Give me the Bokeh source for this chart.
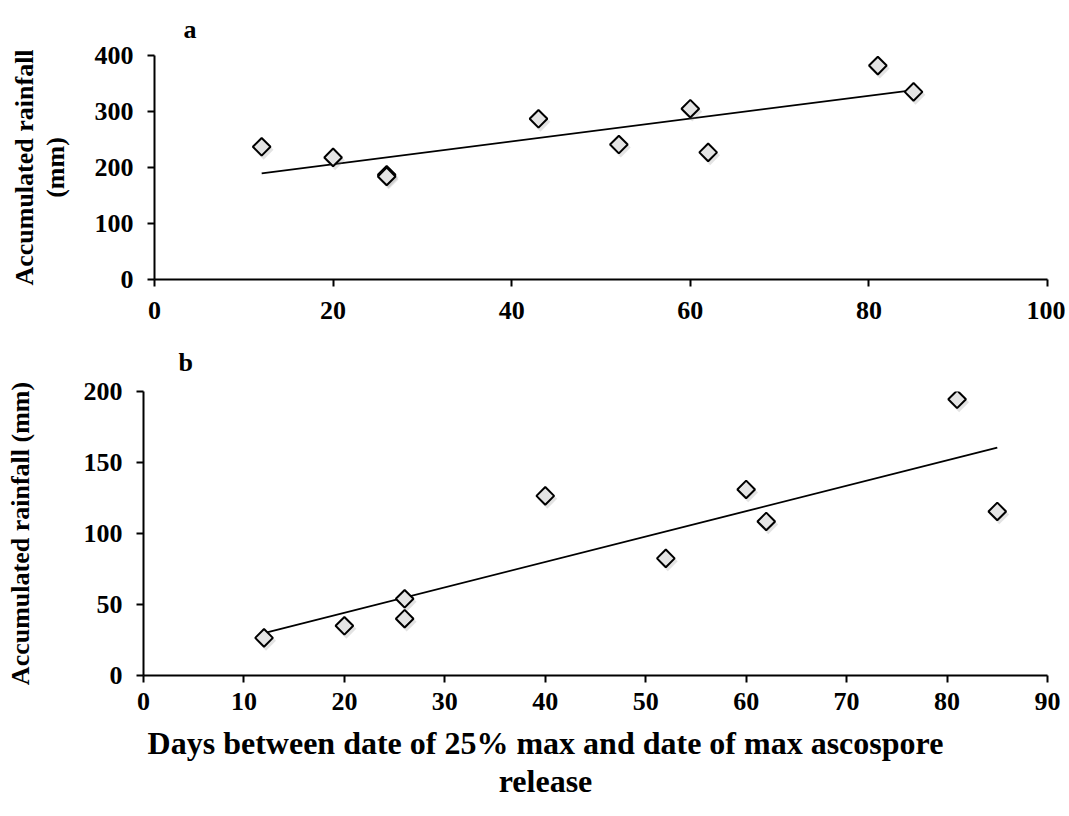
import numpy as np
from bokeh.plotting import figure
from bokeh.layouts import column
from bokeh.models import Range1d, SingleIntervalTicker, FixedTicker, ColumnDataSource, Title
from bokeh.transform import dodge
from bokeh.embed import file_html
from bokeh.resources import INLINE

# ---- data ----
days_a = [12, 20, 26, 26, 43, 52, 60, 62, 81, 85]
rain_a = [237, 218, 187, 184, 287, 241, 305, 227, 382, 335]
days_b = [12, 20, 26, 26, 40, 52, 60, 62, 81, 85]
rain_b = [26.5, 35, 54, 40, 126.5, 82.5, 131, 108.5, 194.5, 115.5]

panel_letters = ["a", "b"]
y_title_a = "Accumulated rainfall\n(mm)"
y_title_b = "Accumulated rainfall (mm)"
x_title_b = "Days between date of 25% max and date of max ascospore\nrelease"

FONT = "Liberation Serif"


def style_axes(p, x_int, y_int):
    p.xaxis.ticker = SingleIntervalTicker(interval=x_int)
    p.yaxis.ticker = SingleIntervalTicker(interval=y_int)
    for ax in (p.xaxis[0], p.yaxis[0]):
        ax.axis_line_width = 2
        ax.axis_line_color = "black"
        ax.major_tick_line_width = 2
        ax.major_tick_line_color = "black"
        ax.major_tick_out = 7
        ax.major_tick_in = 0
        ax.minor_tick_line_color = None
        ax.major_label_text_font = FONT
        ax.major_label_text_font_style = "bold"
        ax.major_label_text_font_size = "26px"
        ax.major_label_text_color = "black"
        ax.axis_label_text_font = FONT
        ax.axis_label_text_font_style = "bold"
        ax.axis_label_text_color = "black"
    p.xgrid.visible = False
    p.ygrid.visible = False
    p.outline_line_color = None
    p.background_fill_color = "white"
    p.border_fill_color = "white"


def add_points(p, xs, ys, sx, sy):
    fit = np.polyfit(xs, ys, 1)
    lx = np.array([min(xs), max(xs)], dtype=float)
    p.line(lx, np.polyval(fit, lx), line_color="black", line_width=1.8)
    src = ColumnDataSource(dict(x=xs, y=ys))
    p.scatter(x=dodge("x", sx), y=dodge("y", -sy), source=src, marker="square",
              angle=np.pi / 4, size=14, fill_color="#808080", fill_alpha=0.22,
              line_color=None)
    p.scatter(x="x", y="y", source=src, marker="square", angle=np.pi / 4,
              size=12.5, fill_color="#e4e4e4", line_color="black", line_width=2)


def letter(text, offset, standoff):
    return Title(text=text, align="left", offset=offset, standoff=standoff,
                 text_font=FONT, text_font_style="bold", text_font_size="26px",
                 text_color="black")


# ---- panel a ----
pa = figure(width=1065, height=329, x_range=Range1d(0, 100), y_range=Range1d(0, 400),
            min_border_left=154, min_border_right=18, min_border_top=54,
            min_border_bottom=50, output_backend="svg", toolbar_location=None,
            title=None)
style_axes(pa, 20, 100)
pa.yaxis.axis_label = y_title_a
pa.yaxis.axis_label_text_font_size = "26px"
pa.yaxis.axis_label_text_line_height = 1.05
pa.yaxis.axis_label_standoff = 22
pa.yaxis.major_label_standoff = 14
pa.xaxis.major_label_standoff = 15
add_points(pa, days_a, rain_a, 0.22, 5.3)
pa.add_layout(letter(panel_letters[0], 29, 24), "above")

# ---- panel b ----
pb = figure(width=1065, height=394, x_range=Range1d(0, 90), y_range=Range1d(0, 200),
            min_border_left=143, min_border_right=18, min_border_top=62,
            min_border_bottom=48, output_backend="svg", toolbar_location=None,
            title=None)
style_axes(pb, 10, 50)
pb.yaxis.axis_label = y_title_b
pb.yaxis.axis_label_text_font_size = "26px"
pb.yaxis.axis_label_standoff = 46
pb.yaxis.major_label_standoff = 14
pb.xaxis.major_label_standoff = 10
add_points(pb, days_b, rain_b, 0.2, 2.1)
pb.add_layout(letter(panel_letters[1], 35, 30), "above")

# ---- shared x-axis title (centred as in the original) ----
pc = figure(width=1068, height=93, x_range=Range1d(0, 1), y_range=Range1d(0, 1),
            min_border_left=22, min_border_right=0, min_border_top=0,
            min_border_bottom=92, output_backend="svg", toolbar_location=None,
            title=None, y_axis_location=None)
pc.xgrid.visible = False
pc.ygrid.visible = False
pc.outline_line_color = None
pc.xaxis.ticker = FixedTicker(ticks=[])
pc.xaxis.axis_line_color = None
pc.xaxis.major_tick_out = 0
pc.xaxis.major_tick_in = 0
pc.xaxis.minor_tick_line_color = None
pc.xaxis.major_label_text_font_size = "0px"
pc.xaxis.axis_label = x_title_b
pc.xaxis.axis_label_text_font = FONT
pc.xaxis.axis_label_text_font_style = "bold"
pc.xaxis.axis_label_text_font_size = "32px"
pc.xaxis.axis_label_text_color = "black"
pc.xaxis.axis_label_text_line_height = 1.06
pc.xaxis.axis_label_standoff = 0

for p in (pa, pb, pc):
    p.frame_align = False

layout = column(pa, pb, pc, spacing=0)
open("out.html", "w").write(file_html(layout, INLINE))
